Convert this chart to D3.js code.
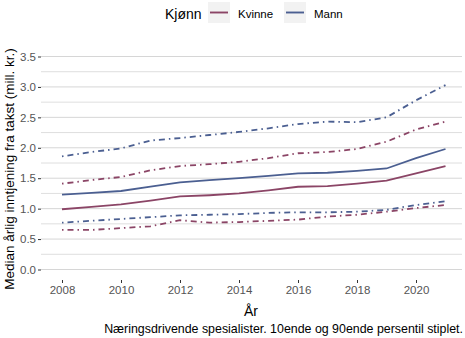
<!DOCTYPE html>
<html>
<head>
<meta charset="utf-8">
<script src="https://cdn.jsdelivr.net/npm/d3@7"></script>
<style>
  body { margin: 0; background: #fff; }
  svg { font-family: "Liberation Sans", Arial, sans-serif; }
</style>
</head>
<body>
<svg id="chart" width="465" height="338"></svg>
<script>
const years = [2008, 2009, 2010, 2011, 2012, 2013, 2014, 2015, 2016, 2017, 2018, 2019, 2020, 2021];
const groups = ['Kvinne', 'Mann'];
const kvinneMedian = [0.99, 1.03, 1.07, 1.13, 1.20, 1.22, 1.25, 1.30, 1.36, 1.37, 1.41, 1.46, 1.58, 1.70];
const kvinneP10 = [0.65, 0.65, 0.68, 0.71, 0.81, 0.77, 0.78, 0.80, 0.82, 0.87, 0.90, 0.95, 1.01, 1.06];
const kvinneP90 = [1.41, 1.47, 1.52, 1.63, 1.70, 1.73, 1.77, 1.83, 1.91, 1.93, 1.98, 2.10, 2.30, 2.43];
const mannMedian = [1.23, 1.26, 1.29, 1.36, 1.43, 1.47, 1.50, 1.54, 1.58, 1.59, 1.62, 1.66, 1.83, 1.98];
const mannP10 = [0.77, 0.80, 0.83, 0.86, 0.89, 0.90, 0.91, 0.93, 0.94, 0.94, 0.95, 0.98, 1.06, 1.12];
const mannP90 = [1.86, 1.93, 1.99, 2.12, 2.16, 2.21, 2.26, 2.32, 2.39, 2.43, 2.42, 2.50, 2.78, 3.03];
const yTicks = [0, 0.5, 1, 1.5, 2, 2.5, 3, 3.5];
const xTicks = [2008, 2010, 2012, 2014, 2016, 2018, 2020];

const colors = { Kvinne: '#8b4566', Mann: '#4b5f91' };
const series = [
  { group: 'Kvinne', values: kvinneMedian, dashed: false },
  { group: 'Kvinne', values: kvinneP10, dashed: true },
  { group: 'Kvinne', values: kvinneP90, dashed: true },
  { group: 'Mann', values: mannMedian, dashed: false },
  { group: 'Mann', values: mannP10, dashed: true },
  { group: 'Mann', values: mannP90, dashed: true }
];

const svg = d3.select('#chart');
const panel = { left: 41, right: 462, top: 42, bottom: 280 };

const x = d3.scaleLinear().domain([2008, 2021]).range([62, 445.5]);
const y = d3.scaleLinear().domain([0, 3.5]).range([269.5, 56.5]);

// grid (major + minor)
const gridVals = d3.range(0, 3.51, 0.25);
svg.append('g')
  .selectAll('line')
  .data(gridVals)
  .enter()
  .append('line')
  .attr('x1', panel.left)
  .attr('x2', panel.right)
  .attr('y1', (d) => y(d))
  .attr('y2', (d) => y(d))
  .attr('stroke', '#d6d6d6')
  .attr('stroke-width', (d) => (d * 2) % 1 === 0 ? 1 : 0.8);

// y axis
const yAxis = svg.append('g')
  .attr('transform', `translate(${panel.left},0)`)
  .call(d3.axisLeft(y).tickValues(yTicks).tickFormat(d3.format('.1f')).tickSize(3).tickPadding(2));
yAxis.select('.domain').remove();
yAxis.selectAll('line').attr('stroke', '#333');
yAxis.selectAll('text').attr('fill', '#555').attr('font-size', 11.5).attr('font-family', 'Liberation Sans, Arial, sans-serif');

// x axis
const xAxis = svg.append('g')
  .attr('transform', `translate(0,${panel.bottom})`)
  .call(d3.axisBottom(x).tickValues(xTicks).tickFormat(d3.format('d')).tickSize(3).tickPadding(3));
xAxis.select('.domain').remove();
xAxis.selectAll('line').attr('stroke', '#333');
xAxis.selectAll('text').attr('fill', '#555').attr('font-size', 11.5).attr('font-family', 'Liberation Sans, Arial, sans-serif');

// lines
const line = (vals) => d3.line()
  .x((d, i) => x(years[i]))
  .y((d) => y(d))(vals);

series.forEach((s) => {
  svg.append('path')
    .attr('d', line(s.values))
    .attr('fill', 'none')
    .attr('stroke', colors[s.group])
    .attr('stroke-width', 1.8)
    .attr('stroke-dasharray', s.dashed ? '1.5 4 6 4' : null);
});

// axis titles
svg.append('text')
  .attr('x', 251)
  .attr('y', 316)
  .attr('text-anchor', 'middle')
  .attr('font-size', 14)
  .attr('fill', '#000')
  .text('År');

svg.append('text')
  .attr('transform', `translate(14,${169}) rotate(-90)`)
  .attr('text-anchor', 'middle')
  .attr('font-size', 13.5)
  .attr('fill', '#000')
  .text('Median årlig inntjening fra takst (mill. kr.)');

// caption
svg.append('text')
  .attr('x', 463)
  .attr('y', 333)
  .attr('text-anchor', 'end')
  .attr('font-size', 12.4)
  .attr('fill', '#000')
  .text('Næringsdrivende spesialister. 10ende og 90ende persentil stiplet.');

// legend
const legend = svg.append('g');
legend.append('text')
  .attr('x', 165)
  .attr('y', 19)
  .attr('font-size', 14)
  .attr('fill', '#000')
  .text('Kjønn');
const legendX = [208, 284];
groups.forEach((g, i) => {
  const lx = legendX[i];
  legend.append('rect')
    .attr('x', lx)
    .attr('y', 2)
    .attr('width', 22)
    .attr('height', 21)
    .attr('fill', '#f2f2f2');
  legend.append('line')
    .attr('x1', lx + 2)
    .attr('x2', lx + 20)
    .attr('y1', 12.5)
    .attr('y2', 12.5)
    .attr('stroke', colors[g])
    .attr('stroke-width', 1.9);
  legend.append('text')
    .attr('x', lx + 30)
    .attr('y', 18)
    .attr('font-size', 11.5)
    .attr('fill', '#000')
    .text(g);
});
</script>
</body>
</html>
